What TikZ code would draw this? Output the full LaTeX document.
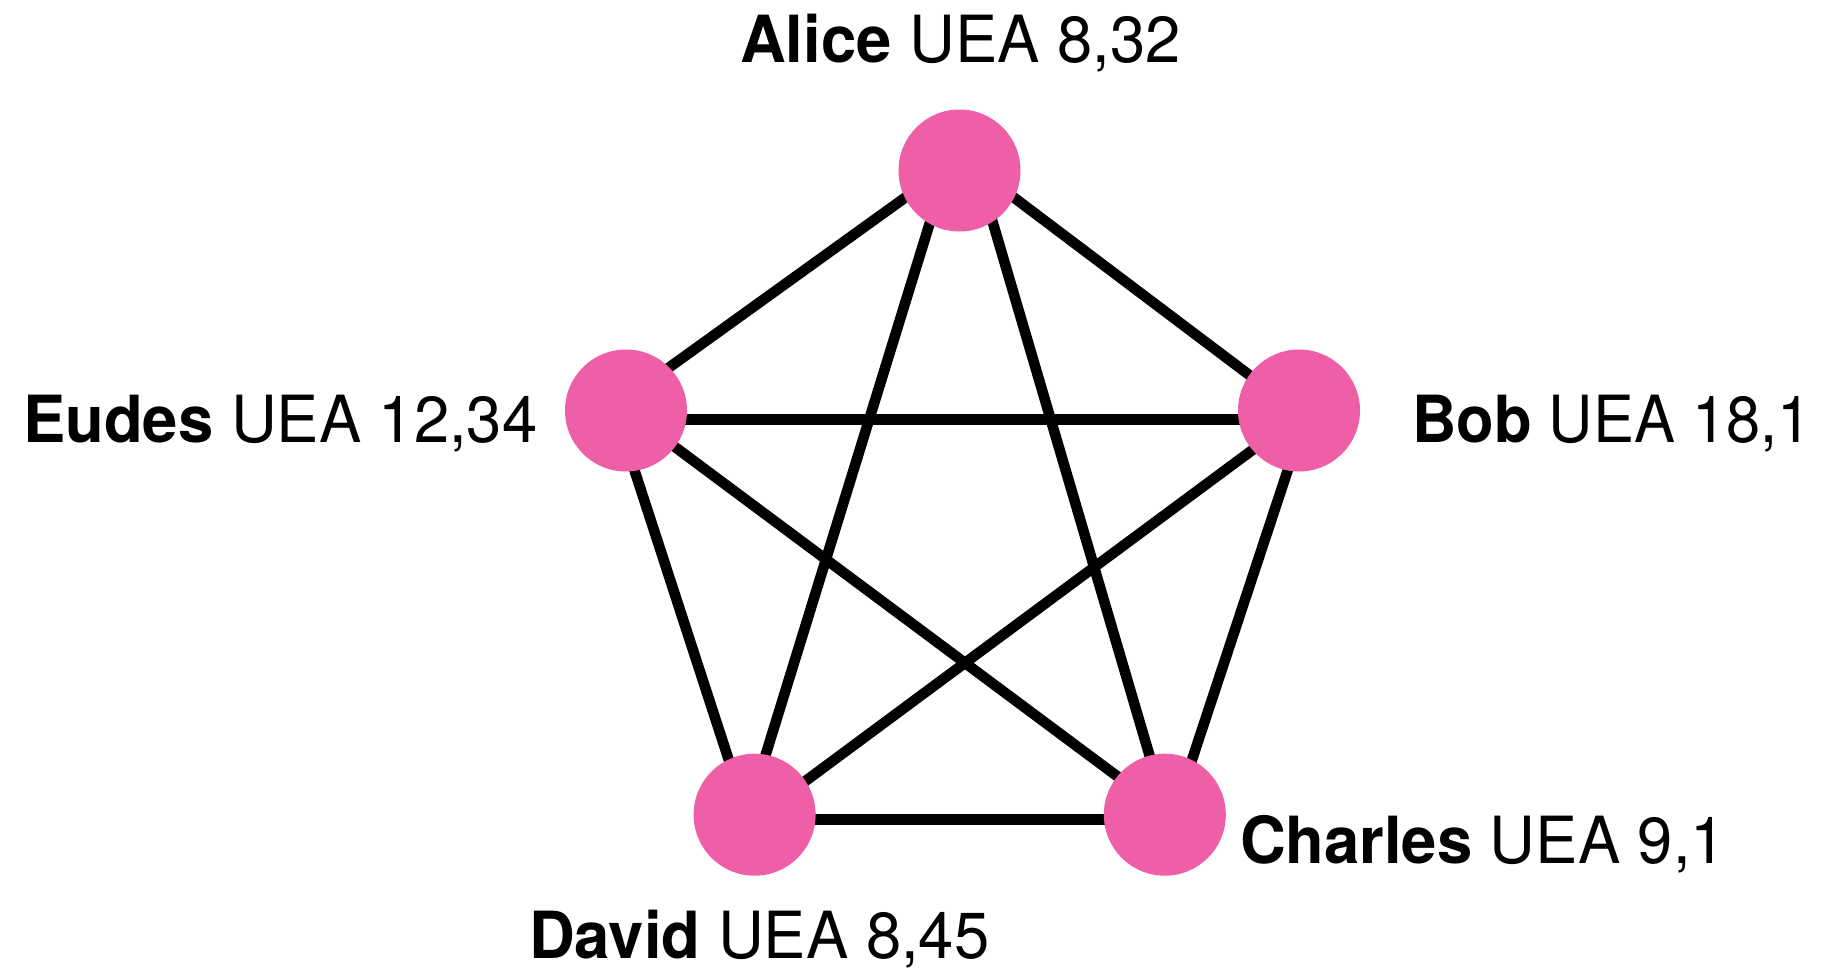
\documentclass[tikz,border=0pt]{standalone}
\usepackage{fontspec}
\setmainfont{TeX Gyre Heros}
\usetikzlibrary{calc}
\definecolor{vertexpink}{HTML}{EF5FA7}
\newcommand{\vlabel}[3][0.975]{\scalebox{#1}[1]{\textbf{#2} #3}}
\tikzset{
  vertex/.style={circle, fill=vertexpink, draw=none, inner sep=0pt, minimum size=122pt},
  edgeline/.style={line width=10.5pt, black},
  vname/.style={anchor=base west, inner sep=0pt, font=\fontsize{65pt}{70pt}\selectfont}
}
\begin{document}
\begin{tikzpicture}[x=1pt, y=-1pt]
  \useasboundingbox (0,0) rectangle (1821,969);
  \fill[white] (0,0) rectangle (1821,969);

  % vertex positions
  \coordinate (pA) at (959.5,170.5);
  \coordinate (pB) at (1299,410.5);
  \coordinate (pC) at (1164.8,814.7);
  \coordinate (pD) at (754.6,814.7);
  \coordinate (pE) at (626,410.5);

  % edges of the complete graph K5, drawn beneath the vertices
  \draw[edgeline] ($(pE)+(0,9)$) -- ($(pB)+(0,9)$);
  \draw[edgeline] ($(pD)+(0,5)$) -- ($(pC)+(0,5)$);
  \draw[edgeline] ($(pA)+(-13.5,0)$) -- ($(pD)+(-9,5)$);
  \draw[edgeline] ($(pA)+(18,0)$) -- ($(pC)+(3.6,5)$);
  \draw[edgeline] (pE) -- ($(pC)+(0,-3)$);
  \draw[edgeline] ($(pB)+(0,5)$) -- ($(pD)+(0,4)$);
  \draw[edgeline] ($(pE)+(-11,0)$) -- ($(pD)+(-8,0)$);
  \draw[edgeline] ($(pA)+(0,-12)$) -- ($(pE)+(0,-12)$);
  \draw[edgeline] ($(pA)+(0,-14)$) -- ($(pB)+(0,2)$);
  \draw[edgeline] ($(pB)+(8.5,0)$) -- ($(pC)+(9,0)$);

  % vertices
  \node[vertex] (A) at (pA) {};
  \node[vertex] (B) at (pB) {};
  \node[vertex] (C) at (pC) {};
  \node[vertex] (D) at (pD) {};
  \node[vertex] (E) at (pE) {};

  % labels
  \node[vname] (lA) at (740,62.3) {\vlabel{Alice}{UEA 8,32}};
  \node[vname] (lB) at (1412,442.7) {\vlabel[0.945]{Bob}{UEA 18,1}};
  \node[vname] (lC) at (1240,863.3) {\vlabel{Charles}{UEA 9,1}};
  \node[vname] (lD) at (529,958) {\vlabel{David}{UEA 8,45}};
  \node[vname] (lE) at (23,442.7) {\vlabel{Eudes}{UEA 12,34}};
\end{tikzpicture}
\end{document}
